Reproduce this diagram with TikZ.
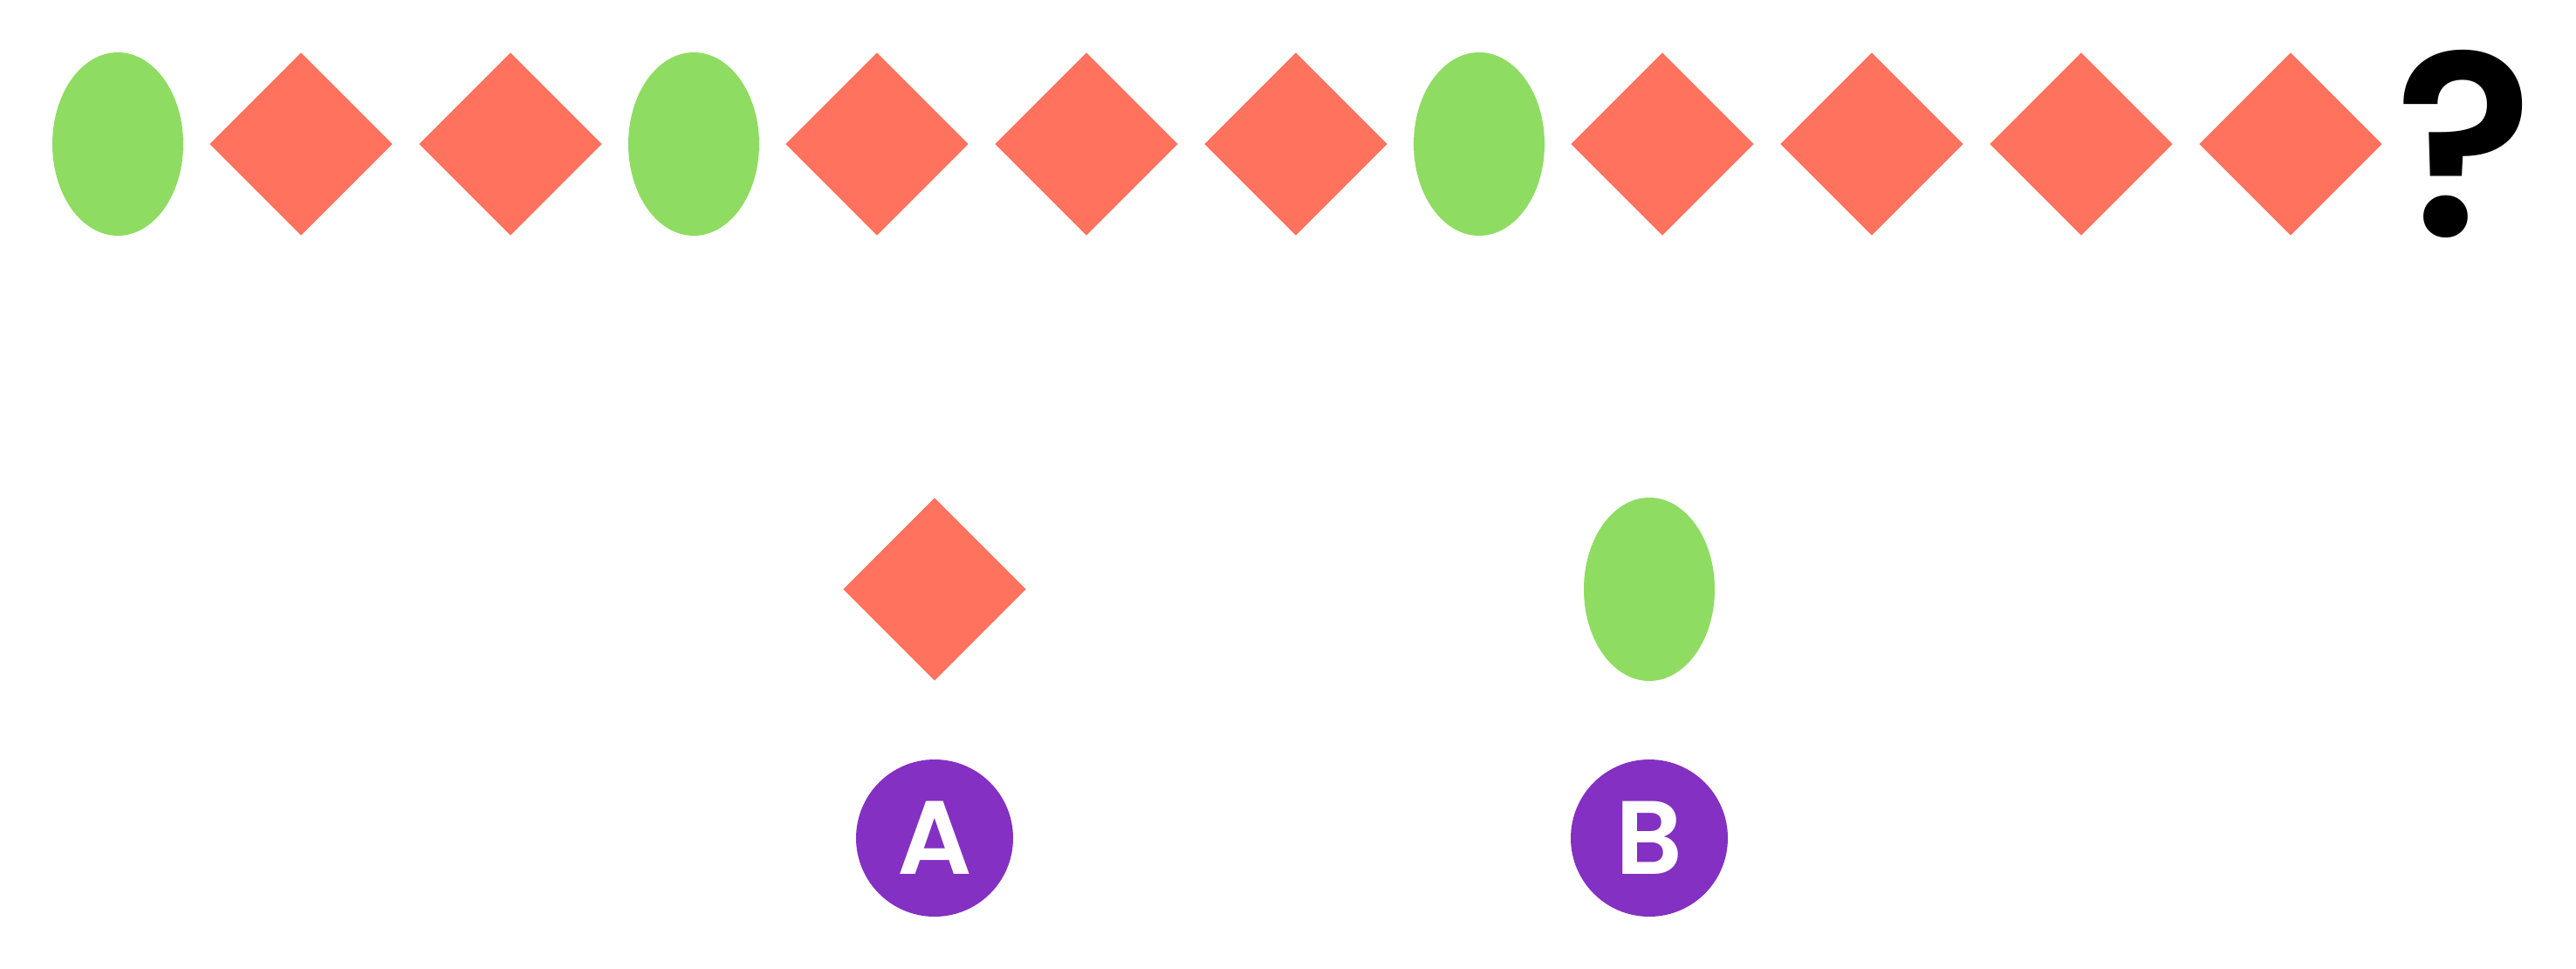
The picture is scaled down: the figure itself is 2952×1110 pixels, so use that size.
\documentclass[tikz,border=0pt]{standalone}
\usepackage{fontspec}
\setmainfont{Poppins}
\newfontfamily\semibold{Poppins SemiBold}
\usetikzlibrary{shapes.geometric}

\begin{document}
\begin{tikzpicture}
		[x=0.1mm,y=-0.1mm,
		%Styles
		blob/.style={ellipse,fill=blobgreen,minimum width=15mm,minimum height=21mm,inner sep=0pt},
		gem/.style={diamond,fill=gemred,minimum width=21mm,minimum height=21mm,inner sep=0pt},
		answer/.style={circle,fill=answerpurple,text=white,minimum size=18mm,inner sep=0pt,font=\fontsize{34}{36}\semibold}
		]
		
		%Colors
		\definecolor{blobgreen}{RGB}{142,220,98}
		\definecolor{gemred}{RGB}{255,114,94}
		\definecolor{answerpurple}{RGB}{132,48,194}
		
		\useasboundingbox (0,0) rectangle (2952,1110);
		
		%The sequence
		\foreach \kind/\x [count=\i] in {blob/135,gem/345,gem/585,blob/795,gem/1005,gem/1245,gem/1485,blob/1695,gem/1905,gem/2145,gem/2385,gem/2625}
			\node[style=\kind] (seq\i) at (\x,165) {};
		\node[anchor=base,inner sep=0pt,font=\fontsize{84}{90}\semibold] (q) at (2824,270) {?};
		
		%The options
		\node[gem] (optA) at (1071,675) {};
		\node[blob] (optB) at (1890,675) {};
		\node[answer] (labA) at (1071,960) {A};
		\node[answer] (labB) at (1890,960) {B};
	\end{tikzpicture}
\end{document}
